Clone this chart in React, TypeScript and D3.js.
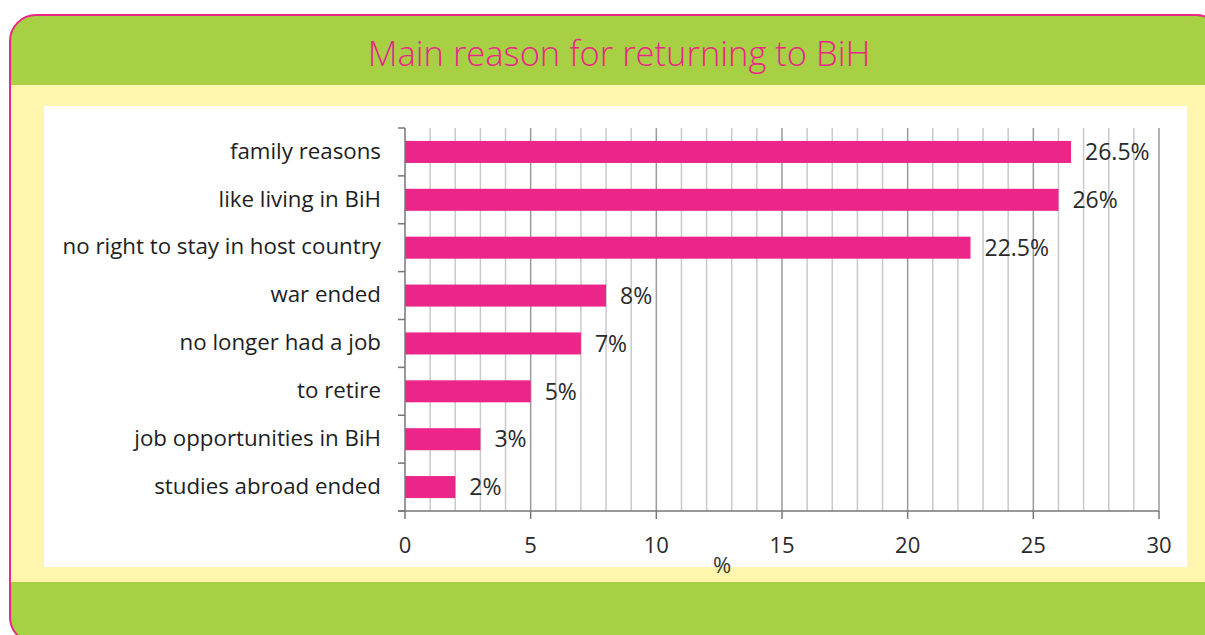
import React from "react";
import * as d3 from "d3";

const categories = [
  "family reasons",
  "like living in BiH",
  "no right to stay in host country",
  "war ended",
  "no longer had a job",
  "to retire",
  "job opportunities in BiH",
  "studies abroad ended",
];
const values = [26.5, 26, 22.5, 8, 7, 5, 3, 2];
const valueLabels = ["26.5%", "26%", "22.5%", "8%", "7%", "5%", "3%", "2%"];
const xTicks = [0, 5, 10, 15, 20, 25, 30];
const title = "Main reason for returning to BiH";
const xAxisTitle = "%";

const W = 1205;
const H = 635;
const PINK = "#EC2589";
const GREEN = "#A7D045";
const YELLOW = "#FEF6AD";
const FONT = "'Open Sans', sans-serif";

export default function App() {
  const x = d3.scaleLinear().domain([0, 30]).range([405, 1159]);
  const y = d3.scaleBand<string>().domain(categories).range([128, 511]).paddingInner(0.54).paddingOuter(0.27);
  const band = d3.scaleBand<string>().domain(categories).range([128, 511]);
  const minor = d3.range(1, 31);
  const boundaries = d3.range(0, categories.length + 1).map((i) => 128 + (i * (511 - 128)) / categories.length);

  return (
    <svg width={W} height={H} style={{ position: "absolute", left: 0, top: 0 }} fontFamily={FONT}>
      <defs>
        <clipPath id="frame">
          <rect x={10} y={15} width={1212} height={628} rx={26} ry={26} />
        </clipPath>
      </defs>
      <rect x={0} y={0} width={W} height={H} fill="#fff" />
      <g clipPath="url(#frame)">
        <rect x={10} y={15} width={1212} height={628} fill={YELLOW} />
        <rect x={10} y={15} width={1212} height={70} fill={GREEN} />
        <rect x={10} y={582} width={1212} height={70} fill={GREEN} />
      </g>
      <rect x={10} y={15} width={1212} height={628} rx={26} ry={26} fill="none" stroke={PINK} strokeWidth={2} />
      <text x={619} y={66} textAnchor="middle" fill={PINK} fontSize={34.5} fontWeight={300}>
        {title}
      </text>

      <rect x={44} y={106} width={1143} height={461} fill="#fff" />

      {minor.map((t) => (
        <line key={t} x1={x(t)} x2={x(t)} y1={128} y2={511} stroke={t % 5 === 0 ? "#9a9a9a" : "#c9c9c9"} strokeWidth={1.5} />
      ))}

      {categories.map((c, i) => (
        <g key={c}>
          <rect x={x(0)} y={y(c)} width={x(values[i]) - x(0)} height={y.bandwidth()} fill={PINK} />
          <text x={x(values[i]) + 14} y={(band(c) as number) + band.bandwidth() / 2} dy="0.36em" fontSize={23} fill="#2a2a2a">
            {valueLabels[i]}
          </text>
          <text x={381} y={(band(c) as number) + band.bandwidth() / 2} dy="0.3em" textAnchor="end" fontSize={22.3} fill="#1e1e1e">
            {c}
          </text>
        </g>
      ))}

      <line x1={405} x2={405} y1={128} y2={511} stroke="#777" strokeWidth={1.5} />
      {boundaries.map((b, i) => (
        <line key={i} x1={398} x2={405} y1={b} y2={b} stroke="#777" strokeWidth={1.5} />
      ))}
      <line x1={398} x2={x(30)} y1={511} y2={511} stroke="#777" strokeWidth={1.5} />
      {xTicks.map((t) => (
        <g key={t}>
          <line x1={x(t)} x2={x(t)} y1={511} y2={519} stroke="#777" strokeWidth={1.5} />
          <text x={x(t)} y={553} textAnchor="middle" fontSize={22} fill="#2a2a2a">
            {t}
          </text>
        </g>
      ))}
      <text x={722} y={573} textAnchor="middle" fontSize={22} fill="#333">
        {xAxisTitle}
      </text>
    </svg>
  );
}
